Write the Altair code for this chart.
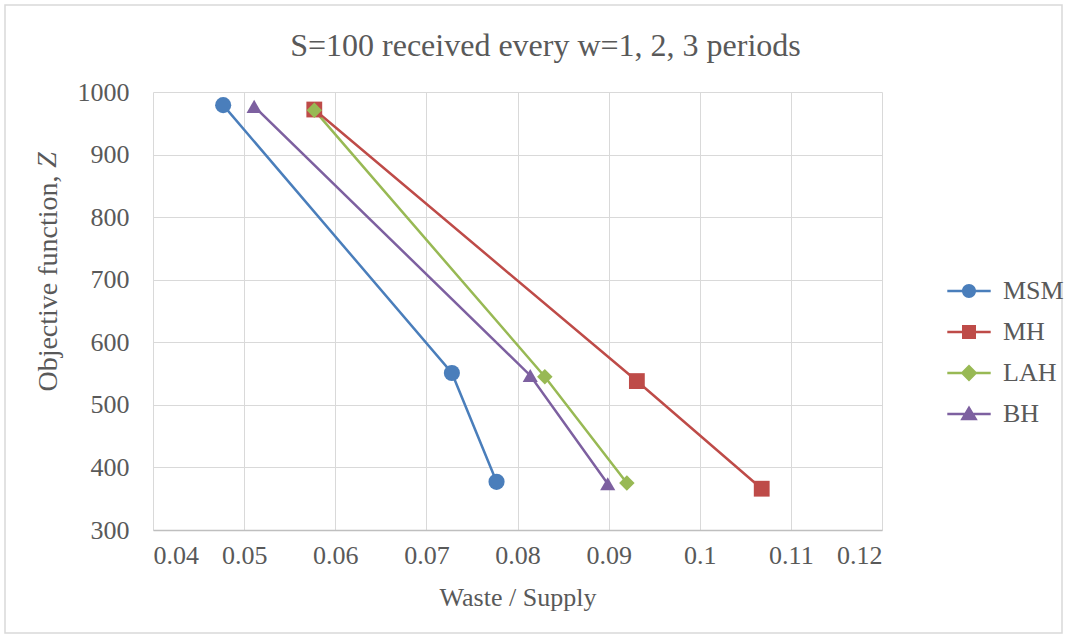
import altair as alt
import pandas as pd

# Series: waste/supply ratio and objective value for w = 1, 2, 3
series_names = ["MSM", "MH", "LAH", "BH"]
series_colors = ["#4A7EBB", "#BE4B48", "#98B954", "#7D60A0"]
point_shapes = ["circle", "square", "diamond", "triangle-up"]
point_sizes = [260, 230, 380, 340]

waste_msm = [0.0477, 0.0728, 0.0777]
obj_msm = [979, 551, 377]
waste_mh = [0.0577, 0.0931, 0.1068]
obj_mh = [972, 538, 366]
waste_lah = [0.0577, 0.0830, 0.0920]
obj_lah = [971, 545, 375]
waste_bh = [0.0511, 0.0814, 0.0899]
obj_bh = [977, 547, 374]

x_ticks = [0.04, 0.05, 0.06, 0.07, 0.08, 0.09, 0.10, 0.11, 0.12]
y_ticks = [300, 400, 500, 600, 700, 800, 900, 1000]

rows = []
for name, xs, ys in [("MSM", waste_msm, obj_msm), ("MH", waste_mh, obj_mh),
                     ("LAH", waste_lah, obj_lah), ("BH", waste_bh, obj_bh)]:
    for i, (xv, yv) in enumerate(zip(xs, ys)):
        rows.append({"series": name, "order": i, "waste": xv, "obj": yv})
df = pd.DataFrame(rows)

# legend glyphs: a short line with the marker on it (unit box -1..1)
bar = "M-3.1,-0.18H3.1V0.18H-3.1Z"
legend_paths = [
    bar + "M1,0A1,1,0,1,1,-1,0A1,1,0,1,1,1,0Z",
    bar + "M-1,-1H1V1H-1Z",
    bar + "M0,-1.2L1.2,0L0,1.2L-1.2,0Z",
    bar + "M0,-1.2L1.25,0.9H-1.25Z",
]

FONT = "Liberation Serif"
GREY = "#595959"
W, H = 729, 438
YT_X, YT_SIZE = -105, 28

x_enc = alt.X("waste:Q", scale=alt.Scale(domain=[0.04, 0.12], nice=False),
              axis=alt.Axis(values=x_ticks, format="~g", title="Waste / Supply",
                            grid=True, ticks=False, labelPadding=12,
                            domainColor="#BFBFBF", domainWidth=1.5,
                            titlePadding=16))
y_enc = alt.Y("obj:Q", scale=alt.Scale(domain=[300, 1000], nice=False),
              axis=alt.Axis(values=y_ticks, format="d", title="Objective function,",
                            grid=True, ticks=False, labelPadding=24,
                            domain=False, titleX=YT_X, titleY=191,
                            titleFontSize=YT_SIZE,
                            titleAngle=270, titleAlign="center",
                            titleBaseline="middle"))

color_scale = alt.Scale(domain=series_names, range=series_colors)

lines = alt.Chart(df).mark_line(strokeWidth=2.5).encode(
    x=x_enc, y=y_enc,
    color=alt.Color("series:N", scale=color_scale, legend=None),
    order="order:O",
    detail="series:N",
)

points = alt.Chart(df).mark_point(filled=True, opacity=1).encode(
    x="waste:Q", y="obj:Q",
    color=alt.Color("series:N", scale=color_scale, legend=None),
    shape=alt.Shape("series:N", scale=alt.Scale(domain=series_names, range=point_shapes),
                    legend=None),
    size=alt.Size("series:N", scale=alt.Scale(domain=series_names, range=point_sizes),
                  legend=None),
)

legend_layer = alt.Chart(df).mark_point(filled=True, opacity=1).encode(
    x="waste:Q", y="obj:Q",
    color=alt.Color("series:N", scale=color_scale, legend=alt.Legend(title=None)),
    shape=alt.Shape("series:N", scale=alt.Scale(domain=series_names, range=legend_paths),
                    legend=alt.Legend(title=None)),
).transform_filter("false")

# italic symbol that ends the y-axis title
z_label = alt.Chart(pd.DataFrame({"t": ["Z"]})).mark_text(
    font=FONT, fontSize=YT_SIZE, fontStyle="italic", color=GREY,
    angle=270, align="center", baseline="middle",
).encode(text="t:N", x=alt.value(YT_X), y=alt.value(68))

frame = alt.Chart(pd.DataFrame({"k": [0]})).mark_rect(
    fill=None, stroke="#D9D9D9", strokeWidth=1.5
).encode(
    x=alt.value(-148), x2=alt.value(W + 180),
    y=alt.value(-87), y2=alt.value(H + 103),
)

chart = alt.layer(frame, lines, points, legend_layer, z_label).resolve_scale(
    color="independent", shape="independent", size="independent"
).properties(
    width=W, height=H,
    background="white",
    title=alt.TitleParams("S=100 received every w=1, 2, 3 periods",
                          anchor="middle", dx=28, offset=-59),
    padding={"left": 153, "top": 92, "right": 185, "bottom": 107},
    autosize=alt.AutoSizeParams(type="none"),
).configure_view(stroke=None).configure_axis(
    labelFont=FONT, titleFont=FONT, labelFontSize=26, titleFontSize=26,
    labelColor=GREY, titleColor=GREY, titleFontWeight="normal",
    gridColor="#D9D9D9", gridWidth=1,
).configure_title(
    font=FONT, fontSize=32, color=GREY, fontWeight="normal",
).configure_legend(
    orient="none", legendX=803, legendY=186, padding=0,
    labelFont=FONT, labelFontSize=26, labelColor=GREY,
    symbolSize=196, labelOffset=21, rowPadding=15, symbolStrokeWidth=0,
)

chart.save("out.html", embed_options={"renderer": "svg", "actions": False})
